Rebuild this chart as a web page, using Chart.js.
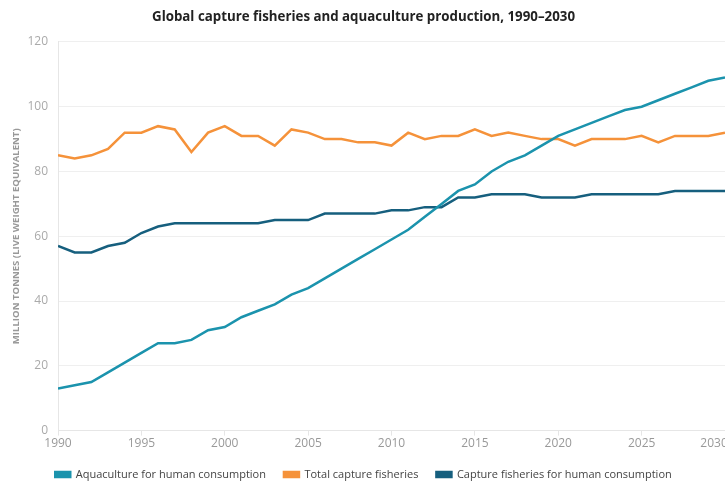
<!DOCTYPE html>
<html>
<head>
<meta charset="utf-8">
<script src="https://cdn.jsdelivr.net/npm/chart.js@4.4.0/dist/chart.umd.min.js"></script>
<style>
  html, body { margin: 0; padding: 0; background: #fff; overflow: hidden; }
  #wrap { width: 725px; height: 481px; }
</style>
</head>
<body>
<div id="wrap"><canvas id="fishChart"></canvas></div>
<script>
// Years 1990-2030, million tonnes
const years = [];
for (let y = 1990; y <= 2030; y++) years.push(y);

const aquaculture = [13, 14, 15, 18, 21, 24, 27, 27, 28, 31, 32, 35, 37, 39, 42, 44, 47, 50, 53, 56,
  59, 62, 66, 70, 74, 76, 80, 83, 85, 88, 91, 93, 95, 97, 99, 100, 102, 104, 106, 108, 109];
const totalCapture = [85, 84, 85, 87, 92, 92, 94, 93, 86, 92, 94, 91, 91, 88, 93, 92, 90, 90, 89, 89,
  88, 92, 90, 91, 91, 93, 91, 92, 91, 90, 90, 88, 90, 90, 90, 91, 89, 91, 91, 91, 92];
const captureHuman = [57, 55, 55, 57, 58, 61, 63, 64, 64, 64, 64, 64, 64, 65, 65, 65, 67, 67, 67, 67,
  68, 68, 69, 69, 72, 72, 73, 73, 73, 72, 72, 72, 73, 73, 73, 73, 73, 74, 74, 74, 74];

const yTicks = [0, 20, 40, 60, 80, 100, 120];
const xTicks = [1990, 1995, 2000, 2005, 2010, 2015, 2020, 2025, 2030];

const toPoints = arr => arr.map((v, i) => ({ x: years[i], y: v }));

function series(label, values, color) {
  return {
    label: label,
    data: toPoints(values),
    borderColor: color,
    backgroundColor: color,
    borderWidth: 2.5,
    pointRadius: 0,
    tension: 0
  };
}

Chart.defaults.font.family = "'Open Sans', sans-serif";

new Chart(document.getElementById('fishChart'), {
  type: 'line',
  data: {
    datasets: [
      series('Aquaculture for human consumption', aquaculture, '#1b93ad'),
      series('Total capture fisheries', totalCapture, '#f5923a'),
      series('Capture fisheries for human consumption', captureHuman, '#165f7e')
    ]
  },
  options: {
    responsive: true,
    maintainAspectRatio: false,
    animation: false,
    layout: { padding: { left: 0, right: -2, bottom: -9 } },
    plugins: {
      title: {
        display: true,
        text: 'Global capture fisheries and aquaculture production, 1990–2030',
        color: '#222',
        font: { size: 13.3, weight: 'bold' },
        padding: { top: 9, bottom: 17 }
      },
      legend: {
        position: 'bottom',
        labels: {
          color: '#444',
          font: { size: 11 },
          boxWidth: 15,
          boxHeight: 5,
          padding: 18
        }
      },
      tooltip: { enabled: false }
    },
    scales: {
      x: {
        type: 'linear',
        min: 1990,
        max: 2030,
        afterFit: s => { s.paddingRight = 0; s.paddingLeft = 0; s.height -= 1; },
        afterBuildTicks: s => { s.ticks = xTicks.map(v => ({ value: v })); },
        grid: { drawOnChartArea: false, drawTicks: true, tickLength: 5, color: '#e6e6e6' },
        border: { color: '#e6e6e6' },
        ticks: {
          color: '#999',
          font: { size: 12 },
          padding: 1,
          maxRotation: 0,
          // last label is kept mostly inside the canvas edge
          callback: v => v === 2030 ? '2030' + '\u00a0'.repeat(7) : String(v)
        }
      },
      y: {
        min: 0,
        max: 120,
        afterFit: s => { s.width = 58; },
        afterBuildTicks: s => { s.ticks = yTicks.map(v => ({ value: v })); },
        grid: { color: '#efefef', drawTicks: false },
        border: { color: '#e6e6e6' },
        ticks: { color: '#aaa', font: { size: 12 }, padding: 10 },
        title: {
          display: true,
          text: 'MILLION TONNES (LIVE WEIGHT EQUIVALENT)',
          color: '#999',
          font: { size: 9.6, weight: 'bold' },
          padding: { top: 11, bottom: 0 }
        }
      }
    }
  }
});
</script>
</body>
</html>
